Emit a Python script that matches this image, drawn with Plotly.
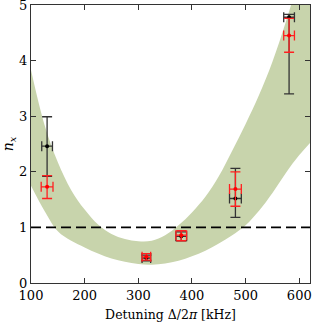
import plotly.graph_objects as go

# Band (theory) boundaries
band_x = [100, 125, 150, 175, 200, 225, 250, 275, 300, 325, 350, 375, 400, 425, 450, 475, 500, 525, 550, 575, 600, 620]
band_upper = [3.83, 2.85, 2.17, 1.67, 1.32, 1.05, 0.88, 0.79, 0.75, 0.76, 0.86, 1.04, 1.27, 1.55, 1.92, 2.38, 2.86, 3.38, 3.98, 4.7, 5.5, 6.2]
band_lower = [1.75, 1.30, 0.93, 0.76, 0.64, 0.53, 0.44, 0.38, 0.34, 0.33, 0.35, 0.40, 0.48, 0.58, 0.71, 0.86, 1.04, 1.3, 1.62, 1.98, 2.3, 2.52]

# Black data series
black_x = [130, 315, 380, 481, 581]
black_y = [2.46, 0.45, 0.84, 1.52, 4.78]
black_yerr_plus = [0.53, 0.05, 0.08, 0.54, 0.05]
black_yerr_minus = [0.54, 0.05, 0.08, 0.34, 1.38]
black_xerr = [10, 8, 10, 11, 10]

# Red data series
red_x = [130, 315, 380, 481, 581]
red_y = [1.73, 0.47, 0.86, 1.69, 4.45]
red_yerr_plus = [0.20, 0.06, 0.08, 0.31, 0.31]
red_yerr_minus = [0.21, 0.06, 0.10, 0.31, 0.30]
red_xerr = [11, 8, 10, 11, 10]

threshold = 1.0

x_ticks = [100, 200, 300, 400, 500, 600]
y_ticks = [0, 1, 2, 3, 4, 5]

band_color = "#c8d4ac"
font = "DejaVu Serif"

fig = go.Figure()
fig.add_trace(go.Scatter(x=band_x, y=band_lower, mode="lines", line=dict(width=0, shape="spline", color=band_color),
                         hoverinfo="skip", showlegend=False))
fig.add_trace(go.Scatter(x=band_x, y=band_upper, mode="lines", line=dict(width=0, shape="spline", color=band_color),
                         fill="tonexty", fillcolor=band_color, hoverinfo="skip", showlegend=False))

fig.add_hline(y=threshold, line=dict(color="black", width=1.6, dash="10px,5px"))

fig.add_trace(go.Scatter(
    x=black_x, y=black_y, mode="markers",
    marker=dict(color="black", size=4),
    error_y=dict(type="data", array=black_yerr_plus, arrayminus=black_yerr_minus, symmetric=False,
                 color="#333333", thickness=1.3, width=5),
    error_x=dict(type="data", array=black_xerr, color="#333333", thickness=1.3, width=5),
    showlegend=False))

fig.add_trace(go.Scatter(
    x=red_x, y=red_y, mode="markers",
    marker=dict(color="red", size=4),
    error_y=dict(type="data", array=red_yerr_plus, arrayminus=red_yerr_minus, symmetric=False,
                 color="#ff2020", thickness=1.3, width=5),
    error_x=dict(type="data", array=red_xerr, color="#ff2020", thickness=1.3, width=5),
    showlegend=False))

axis_common = dict(showline=True, linecolor="#333333", linewidth=1, mirror="ticks", ticks="inside",
                   ticklen=5, tickcolor="#333333", showgrid=False, zeroline=False, automargin=False,
                   ticklabeloverflow="allow", tickfont=dict(family=font, size=13, color="black"))

fig.update_xaxes(range=[100, 620], tickvals=x_ticks, ticktext=[str(v) for v in x_ticks],
                 title=dict(text="Detuning Δ/2<i>π</i> [kHz]", font=dict(family=font, size=12.5, color="black"), standoff=8),
                 **axis_common)
fig.update_yaxes(range=[0, 5], tickvals=y_ticks, ticktext=[str(v) for v in y_ticks],
                 title=dict(text="<i>n<sub>x</sub></i>", font=dict(family=font, size=14, color="black"), standoff=8),
                 **axis_common)

fig.update_layout(width=312, height=332, margin=dict(l=31, r=2, t=5, b=49),
                  plot_bgcolor="white", paper_bgcolor="white", font=dict(family=font))

fig.write_html("out.html", config={"displayModeBar": False},
               post_script="document.body.style.margin='0';document.body.style.overflow='hidden';")
